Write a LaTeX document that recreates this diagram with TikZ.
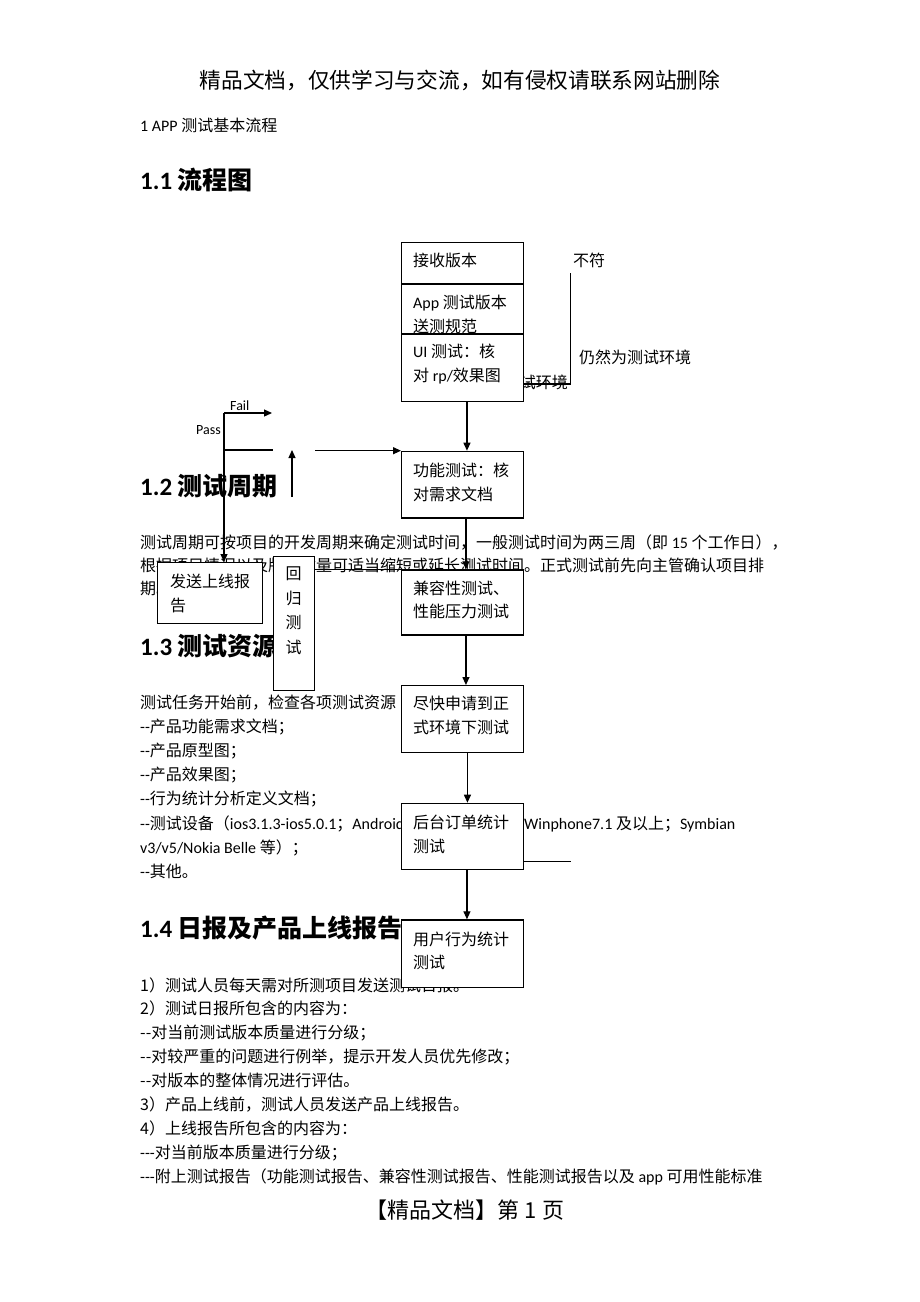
\documentclass[tikz,border=0pt]{standalone}
\usepackage{fontspec}
\setmainfont{Noto Sans CJK SC}
\newfontfamily\latfont{Carlito}
\usetikzlibrary{arrows.meta}
\newcommand\Lt[1]{{\latfont #1}}
\newcommand\dd{-\kern0pt-}
\newcommand\bodyf{\fontsize{16pt}{20pt}\selectfont}
\newcommand\headf{\fontsize{25pt}{30pt}\selectfont\bfseries}
\begin{document}
\begin{tikzpicture}[x=1pt,y=-1pt,
  line/.style={line width=1.2pt},
  arr/.style={line width=1.2pt,-{Triangle[length=8pt,width=7pt]}},
  box/.style={draw,line width=1.2pt,fill=white,inner sep=0pt,anchor=north west},
  txt/.style={anchor=base west,inner sep=0pt,font=\bodyf},
  hd/.style={anchor=base west,inner sep=0pt,font=\headf},
  sm/.style={inner sep=0pt,font=\latfont\fontsize{14pt}{16pt}\selectfont}]
\useasboundingbox[fill=white] (0,0) rectangle (920,1302);

% ---------- page text ----------
\node[anchor=base,inner sep=0pt,font=\fontsize{21.7pt}{26pt}\selectfont] (hdr) at (460,88) {精品文档，仅供学习与交流，如有侵权请联系网站删除};
\node[txt] (l0) at (140,131) {\Lt{1 APP }测试基本流程};
\node[hd] (h1) at (140,189.5) {\Lt{1.1 }流程图};
\node[hd] (h2) at (140,495.5) {\Lt{1.2 }测试周期};
\node[txt] (p1) at (140,548) {测试周期可按项目的开发周期来确定测试时间，一般测试时间为两三周（即\Lt{ 15 }个工作日），};
\node[txt] (p2) at (140,571) {根据项目情况以及版本质量可适当缩短或延长测试时间。正式测试前先向主管确认项目排};
\node[txt] (p3) at (140,594) {期。};
\node[hd] (h3) at (140,655.5) {\Lt{1.3 }测试资源};
\node[txt] (r0) at (140,708) {测试任务开始前，检查各项测试资源};
\node[txt] (r1) at (140,732) {\Lt{\dd}产品功能需求文档；};
\node[txt] (r2) at (140,756) {\Lt{\dd}产品原型图；};
\node[txt] (r3) at (140,780) {\Lt{\dd}产品效果图；};
\node[txt] (r4) at (140,804) {\Lt{\dd}行为统计分析定义文档；};
\node[txt] (r5) at (140,829) {\Lt{\dd}测试设备（\Lt{ios3.1.3-ios5.0.1}；\Lt{Android}};
\node[txt] (r5b) at (524,829) {\Lt{Winphone7.1 }及以上；\Lt{Symbian}};
\node[txt] (r6) at (140,853) {\Lt{v3/v5/Nokia Belle }等）；};
\node[txt] (r7) at (140,877) {\Lt{\dd}其他。};
\node[hd] (h4) at (140,937.5) {\Lt{1.4 }日报及产品上线报告};
\node[txt] (d1) at (140,991) {1）测试人员每天需对所测项目发送测试日报。};
\node[txt] (d2) at (140,1014) {2）测试日报所包含的内容为：};
\node[txt] (d3) at (140,1038) {\dd{}对当前测试版本质量进行分级；};
\node[txt] (d4) at (140,1062) {\dd{}对较严重的问题进行例举，提示开发人员优先修改；};
\node[txt] (d5) at (140,1086) {\dd{}对版本的整体情况进行评估。};
\node[txt] (d6) at (140,1110) {3）产品上线前，测试人员发送产品上线报告。};
\node[txt] (d7) at (140,1134) {4）上线报告所包含的内容为：};
\node[txt] (d8) at (140,1158) {\Lt{-\kern0pt-\kern0pt-}对当前版本质量进行分级；};
\node[txt] (d9) at (140,1182) {\Lt{-\kern0pt-\kern0pt-}附上测试报告（功能测试报告、兼容性测试报告、性能测试报告以及\Lt{ app }可用性能标准};
\node[anchor=base,inner sep=0pt,font=\fontsize{22pt}{26pt}\selectfont] (ftr) at (465,1218) {【精品文档】第 1 页};

% ---------- side labels ----------
\node[txt,anchor=base west] (bf) at (573,266) {不符};
\node[txt,anchor=base west] (rq) at (579,363) {仍然为测试环境};
\node[txt,anchor=base east] (sh) at (568,388) {测试环境};
\node[sm,anchor=base west] (fl) at (230,410) {Fail};
\node[sm,anchor=base east] (ps) at (221,434) {Pass};

% ---------- boxes ----------
\node[box,minimum width=121.7pt,minimum height=41.6pt] (js) at (401,241.7) {};
\node[txt] (jst) at (413,266) {接收版本};
\node[box,minimum width=121.7pt,minimum height=66.7pt] (ap) at (401,283.3) {};
\node[txt] (apt1) at (413,308.7) {\Lt{App }测试版本};
\node[txt] (apt2) at (413,332.7) {送测规范};
\node[box,minimum width=121.7pt,minimum height=67.4pt] (ui) at (401,333.3) {};
\node[txt] (uit1) at (413,357.7) {\Lt{UI }测试：核};
\node[txt] (uit2) at (413,381.7) {对\Lt{ rp/}效果图};
\node[box,minimum width=121.7pt,minimum height=66.6pt] (gn) at (401,450.7) {};
\node[txt] (gnt1) at (413,476) {功能测试：核};
\node[txt] (gnt2) at (413,500) {对需求文档};
\node[box,minimum width=121.7pt,minimum height=65pt] (jr) at (401,569.3) {};
\node[txt] (jrt1) at (413,594) {兼容性测试、};
\node[txt] (jrt2) at (413,617) {性能压力测试};
\node[box,minimum width=121.7pt,minimum height=66.7pt] (jk) at (401,685) {};
\node[txt] (jkt1) at (413,709) {尽快申请到正};
\node[txt] (jkt2) at (413,733) {式环境下测试};
\node[box,minimum width=121.7pt,minimum height=66.3pt] (ht) at (401,802.7) {};
\node[txt] (htt1) at (413,828) {后台订单统计};
\node[txt] (htt2) at (413,852) {测试};
\node[box,minimum width=121.7pt,minimum height=67.4pt] (yh) at (401,919.3) {};
\node[txt] (yht1) at (413,945) {用户行为统计};
\node[txt] (yht2) at (413,968) {测试};
\node[box,minimum width=105pt,minimum height=61pt] (fs) at (157,562) {};
\node[txt] (fst1) at (170,587) {发送上线报};
\node[txt] (fst2) at (170,611) {告};
\node[box,minimum width=41pt,minimum height=134pt] (hg) at (273,556) {};
\node[txt,anchor=base] (hgt1) at (293.5,579) {回};
\node[txt,anchor=base] (hgt2) at (293.5,604) {归};
\node[txt,anchor=base] (hgt3) at (293.5,628) {测};
\node[txt,anchor=base] (hgt4) at (293.5,653) {试};

% ---------- connectors ----------
\draw[arr] ([xshift=4.5pt]ui.south) -- ([xshift=4.5pt]gn.north);
\draw[arr] ([xshift=3.5pt]gn.south) -- ([xshift=3.5pt]jr.north);
\draw[arr] ([xshift=3.5pt]jr.south) -- ([xshift=3.5pt]jk.north);
\draw[arr] ([xshift=5pt]jk.south) -- ([xshift=5pt]ht.north);
\draw[arr] ([xshift=4.5pt]ht.south) -- ([xshift=4.5pt]yh.north);

\coordinate (nc) at (570.7,384);
\coordinate (nf) at (570.7,272.7);
\draw[line] (ui.east |- nc) -- (nc) -- (nf);
\coordinate (hte) at (571,861.7);
\draw[line] (ht.east |- hte) -- (hte);

\coordinate (pf) at (224,413);
\coordinate (ft) at (272,413);
\draw[arr] (pf) -- (ft);
\draw[arr] (pf) -- (pf |- fs.north);
\coordinate (pp) at (224,450);
\coordinate (ppe) at (273,450);
\draw[line] (pp) -- (ppe);
\coordinate (ua) at (292,497);
\coordinate (ub) at (292,450);
\draw[arr] (ua) -- (ub);
\draw[arr] (hg.east |- gn.north west) -- (gn.north west);
\draw[line] (hg.east |- jr.north west) -- (jr.north west);
\end{tikzpicture}
\end{document}
